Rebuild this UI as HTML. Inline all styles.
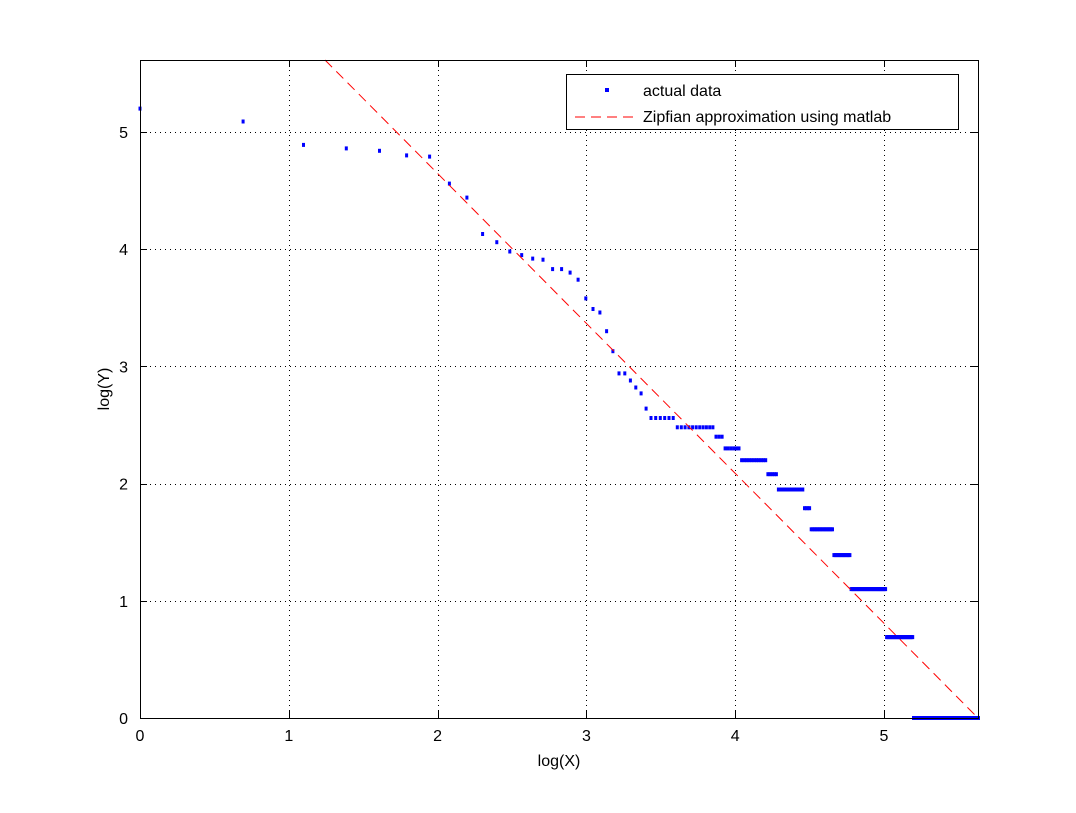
<!DOCTYPE html>
<html><head><meta charset="utf-8"><style>
body{margin:0;background:#fff;width:1076px;height:808px;overflow:hidden}
svg text{font-family:"Liberation Sans",sans-serif;font-size:16px;fill:#000}
</style></head><body>
<svg id="s" width="1076" height="808" xmlns="http://www.w3.org/2000/svg">
<rect width="1076" height="808" fill="#fff"/>
<g id="grid" stroke="#000" stroke-width="1" stroke-dasharray="1,4"></g>
<g id="pts" fill="#0000ff"></g>
<line x1="325" y1="60" x2="978" y2="718" stroke="#ff0000" stroke-width="1" stroke-dasharray="10,6"/>
<rect x="140.5" y="60.5" width="838" height="658" fill="none" stroke="#000"/>
<g id="ticks" stroke="#000"></g>
<g id="lbl"></g>
<text x="559" y="766" text-anchor="middle">log(X)</text>
<text transform="translate(109,389) rotate(-90)" text-anchor="middle">log(Y)</text>
<rect x="566.5" y="74.5" width="392" height="55" fill="#fff" stroke="#000"/>
<rect x="605" y="88" width="4" height="4" fill="#0000ff"/>
<line x1="575" y1="117" x2="637" y2="117" stroke="#ff0000" stroke-dasharray="10,6"/>
<text x="643" y="96">actual data</text>
<text x="643" y="122">Zipfian approximation using matlab</text>
</svg>
<script>
var NS="http://www.w3.org/2000/svg";
function el(p,t,a,txt){var e=document.createElementNS(NS,t);for(var k in a)e.setAttribute(k,a[k]);if(txt!=null)e.textContent=txt;document.getElementById(p).appendChild(e);}
var X=function(v){return 140+v*148.8}, Y=function(v){return 718-v*117.2};
for(var i=1;i<=5;i++){var x=Math.round(X(i))+0.5;el("grid","line",{x1:x,y1:60,x2:x,y2:718});
 el("ticks","line",{x1:x,y1:718,x2:x,y2:711});el("ticks","line",{x1:x,y1:60,x2:x,y2:67});}
for(var i=1;i<=5;i++){var y=Math.round(Y(i))+0.5;el("grid","line",{x1:140,y1:y,x2:978,y2:y});
 el("ticks","line",{x1:140,y1:y,x2:147,y2:y});el("ticks","line",{x1:978,y1:y,x2:971,y2:y});}
for(var i=0;i<=5;i++){el("lbl","text",{x:X(i),y:741,"text-anchor":"middle"},i);
 el("lbl","text",{x:128,y:Y(i)+6,"text-anchor":"end"},i);}
var ys=[5.20,5.09,4.89,4.86,4.84,4.80,4.79,4.56,4.44,4.13,4.06,3.98,3.95,3.92,3.91,3.83,3.83,3.80,3.74,3.58,3.49,3.46,3.30,3.13,2.94,2.94,2.88,2.82,2.77,2.64];
var steps=[[36,2.56],[47,2.48],[50,2.40],[56,2.30],[67,2.20],[72,2.08],[86,1.95],[90,1.79],[105,1.61],[118,1.39],[150,1.10],[180,0.69],[280,0]];
for(var r=31;r<=280;r++){for(var j=0;j<steps.length;j++)if(r<=steps[j][0]){ys.push(steps[j][1]);break;}}
for(var r=1;r<=280;r++){var x=X(Math.log(r)),y=Y(ys[r-1]);
 el("pts","rect",{x:(x-1.5).toFixed(1),y:(y-2).toFixed(1),width:3,height:4});}
</script>
</body></html>
